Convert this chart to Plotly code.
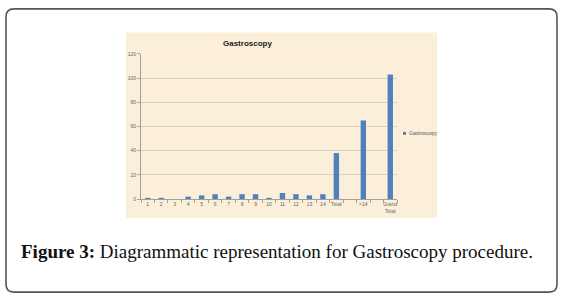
import plotly.graph_objects as go

categories = ["1", "2", "3", "4", "5", "6", "7", "8", "9", "10", "11", "12", "13", "14",
              "Total", " ", ">14", "  ", "Grand<br>Total"]
values = [1, 1, 0, 2, 3, 4, 2, 4, 4, 1, 5, 4, 3, 4, 38, None, 65, None, 103]
y_ticks = [0, 20, 40, 60, 80, 100, 120]
series_name = "Gastroscopy"
chart_title = "Gastroscopy"
caption_bold = "Figure 3:"
caption_text = " Diagrammatic representation for Gastroscopy procedure."
bar_color = "#4F81BD"

W, H = 564, 303
def px(x): return x / W
def py(y): return 1 - y / H

fig = go.Figure()
fig.add_trace(go.Bar(x=categories, y=values, name=series_name, showlegend=False,
                     marker=dict(color=bar_color, line=dict(width=0))))

fig.update_layout(
    width=W, height=H,
    margin=dict(l=0, r=0, t=0, b=0),
    paper_bgcolor="white",
    plot_bgcolor="rgba(0,0,0,0)",
    bargap=0.6,
    showlegend=False,
    xaxis=dict(domain=[px(141), px(397)], type="category",
               showline=True, linecolor="#a0a0a0", linewidth=1,
               ticks="outside", tickson="boundaries", ticklen=3, tickcolor="#a0a0a0",
               tickfont=dict(size=5, color="#666", family="Liberation Sans"),
               tickangle=0, showgrid=False, fixedrange=True),
    yaxis=dict(domain=[py(200), py(52)], range=[0, 120], tickvals=y_ticks,
               showline=True, linecolor="#a0a0a0", linewidth=1,
               ticks="outside", ticklen=3, tickcolor="#a0a0a0",
               showgrid=True, gridcolor="#d8d2c4", gridwidth=1, zeroline=False,
               tickfont=dict(size=5, color="#666", family="Liberation Sans")),
    font=dict(family="Liberation Sans"),
)

shapes = []
# beige chart area
shapes.append(dict(type="rect", xref="paper", yref="paper", layer="below",
                   x0=px(126), x1=px(437), y0=py(219), y1=py(30),
                   fillcolor="#FCEFD9", line=dict(width=0)))
# legend key
shapes.append(dict(type="rect", xref="paper", yref="paper", layer="above",
                   x0=px(403), x1=px(406), y0=py(134.5), y1=py(131.5),
                   fillcolor=bar_color, line=dict(width=0)))
# rounded outer border
x0, x1, y0, y1, r = px(6), px(557), py(295), py(6), 8
rx, ry = r / W, r / H
path = (f"M {x0+rx},{y1} L {x1-rx},{y1} Q {x1},{y1} {x1},{y1-ry} "
        f"L {x1},{y0+ry} Q {x1},{y0} {x1-rx},{y0} L {x0+rx},{y0} "
        f"Q {x0},{y0} {x0},{y0+ry} L {x0},{y1-ry} Q {x0},{y1} {x0+rx},{y1} Z")
shapes.append(dict(type="path", xref="paper", yref="paper", path=path,
                   line=dict(color="#555555", width=1.6), layer="above"))
fig.update_layout(shapes=shapes)

fig.add_annotation(text=series_name, x=px(407), y=py(133), xref="paper", yref="paper",
                   showarrow=False, font=dict(size=5, color="#555", family="Liberation Sans"),
                   xanchor="left", yanchor="middle")
fig.add_annotation(text=f"<b>{chart_title}</b>", x=px(247), y=py(41), xref="paper", yref="paper",
                   showarrow=False, font=dict(size=8, color="#222", family="Liberation Sans"),
                   xanchor="center", yanchor="middle")
fig.add_annotation(text=f"<b>{caption_bold}</b>{caption_text}", x=px(19), y=py(254),
                   xref="paper", yref="paper", showarrow=False,
                   font=dict(size=19, color="#111", family="Liberation Serif"),
                   xanchor="left", yanchor="middle")

fig.write_html("out.html", config={"displayModeBar": False},
               post_script="document.body.style.margin='0';document.body.style.overflow='hidden';")
